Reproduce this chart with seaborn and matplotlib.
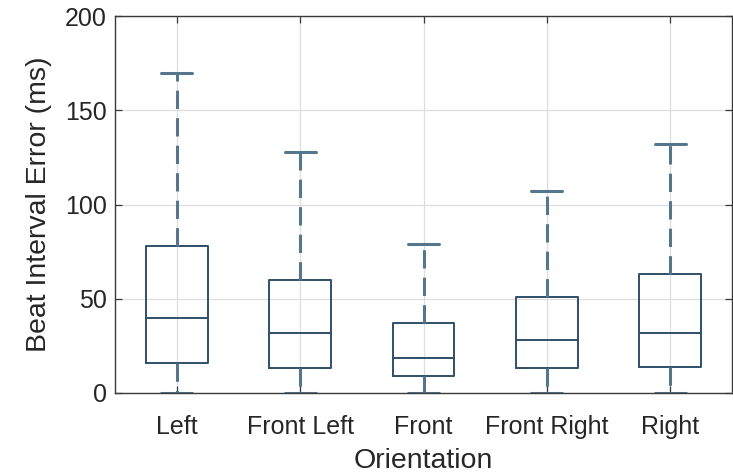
import numpy as np
import pandas as pd
import matplotlib
matplotlib.use("Agg")
import matplotlib.pyplot as plt
import seaborn as sns

categories = ["Left", "Front Left", "Front", "Front Right", "Right"]
# five-number summaries: min, Q1, median, Q3, max
left = [0, 16, 40, 78, 170]
front_left = [0, 13, 32, 60, 128]
front = [0, 9, 18.5, 37, 79]
front_right = [0, 13, 28, 51, 107]
right = [0, 14, 32, 63, 132]
yticks = [0, 50, 100, 150, 200]

series = [left, front_left, front, front_right, right]
df = pd.DataFrame({
    "Orientation": np.repeat(categories, [len(s) for s in series]),
    "Error": np.concatenate(series),
})

sns.set_theme(style="ticks")
plt.rcParams["font.family"] = ["Liberation Sans", "DejaVu Sans"]

fig = plt.figure(figsize=(7.33, 4.75), dpi=100)
ax = fig.add_axes([115 / 733, 1 - 393 / 475, (732 - 115) / 733, (393 - 16) / 475])

box_c = "#2E5068"
wh_c = "#56768D"
sns.boxplot(
    data=df, x="Orientation", y="Error", order=categories, ax=ax,
    fill=False, width=0.5, whis=(0, 100), showfliers=False,
    color=box_c, linewidth=1.4,
    boxprops=dict(color=box_c, linewidth=1.4),
    medianprops=dict(color=box_c, linewidth=1.4),
    whiskerprops=dict(color=wh_c, linewidth=2.2, linestyle=(0, (6, 3))),
    capprops=dict(color=wh_c, linewidth=2.2),
)

ax.set_xlim(-0.5, 4.5)
ax.set_ylim(0, 200)
ax.set_yticks(yticks)
ax.grid(True, color="#DEDEDE", linewidth=0.9)
ax.set_axisbelow(True)
for s in ax.spines.values():
    s.set_visible(True)
    s.set_color("#3A3A3A")
    s.set_linewidth(1.0)
ax.tick_params(direction="in", length=5, width=0.9, color="#3A3A3A",
               top=True, right=True, labelsize=18, labelcolor="#262626")
ax.tick_params(axis="x", pad=16)
ax.tick_params(axis="y", pad=6)
ax.set_xlabel("Orientation", fontsize=20.5, color="#262626", labelpad=6)
ax.set_ylabel("Beat Interval Error (ms)", fontsize=20.5, color="#262626", labelpad=9)

fig.savefig("out.png", dpi=100)
